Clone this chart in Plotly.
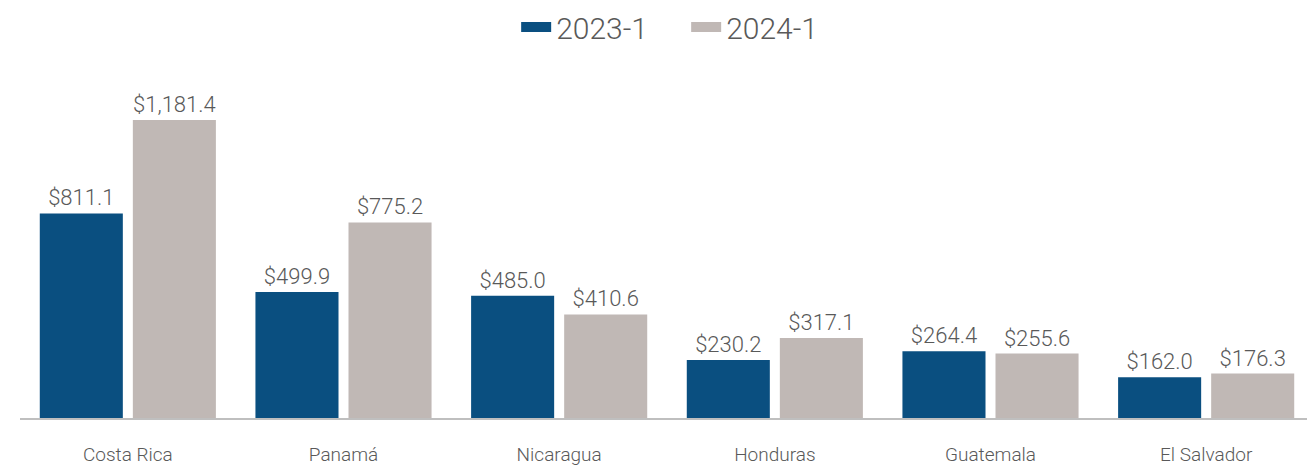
import plotly.graph_objects as go

categories = ["Costa Rica", "Panamá", "Nicaragua", "Honduras", "Guatemala", "El Salvador"]
series_names = ["2023-1", "2024-1"]
values_2023 = [811.1, 499.9, 485.0, 230.2, 264.4, 162.0]
values_2024 = [1181.4, 775.2, 410.6, 317.1, 255.6, 176.3]
colors = ["#0A4F80", "#C0B8B5"]

FONT = "Roboto"
TXT = "#595959"

fig = go.Figure()
for name, vals, col in zip(series_names, [values_2023, values_2024], colors):
    fig.add_trace(go.Bar(
        x=categories, y=vals, name=name, marker=dict(color=col, line=dict(width=0)),
        text=[f"${v:,.1f}" for v in vals], textposition="outside",
        textfont=dict(family=FONT, size=22, color=TXT, weight=300),
        cliponaxis=False, showlegend=False, legendgroup=name,
    ))
    fig.add_trace(go.Scatter(
        x=[None], y=[None], mode="lines", name=name, legendgroup=name,
        line=dict(color=col, width=11), showlegend=True,
    ))

fig.update_layout(
    width=1307, height=459,
    margin=dict(l=12, r=1, t=52, b=49, autoexpand=False),
    paper_bgcolor="white", plot_bgcolor="white",
    barmode="group", bargap=0.137, bargroupgap=0.1075,
    font=dict(family=FONT, color=TXT, weight=300),
    legend=dict(orientation="h", x=0.3888, xanchor="left", xref="container",
                y=0.9586, yanchor="middle", yref="container",
                font=dict(family=FONT, size=30, color=TXT, weight=300),
                entrywidth=125, entrywidthmode="pixels", traceorder="normal"),
    xaxis=dict(showline=True, linecolor="#BFBFBF", linewidth=2, ticks="",
               tickfont=dict(family=FONT, size=19, color=TXT, weight=300),
               ticklabelstandoff=18, showgrid=False, tickangle=0, automargin=False),
    yaxis=dict(visible=False, range=[0, 1419.5], showgrid=False),
)

fig.write_html("out.html")
